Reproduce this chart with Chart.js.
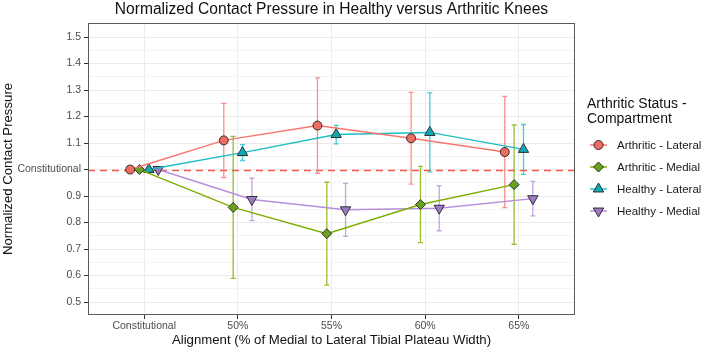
<!DOCTYPE html>
<html>
<head>
<meta charset="utf-8">
<script src="https://cdn.jsdelivr.net/npm/chart.js@4"></script>
<style>
  html, body { margin: 0; padding: 0; background: #fff; }
  #wrap { width: 702px; height: 349px; }
</style>
</head>
<body>
<div id="wrap"><canvas id="kneeChart" width="702" height="349"></canvas></div>
<script>
const categories = ['Constitutional', '50%', '55%', '60%', '65%'];

const arthLateral = [1.0, 1.11, 1.166, 1.118, 1.066];
const arthLateralErr = [0, 0.14, 0.18, 0.173, 0.21];
const arthMedial = [1.0, 0.857, 0.758, 0.868, 0.943];
const arthMedialErr = [0, 0.268, 0.194, 0.144, 0.225];
const healthyLateral = [1.0, 1.064, 1.132, 1.14, 1.076];
const healthyLateralErr = [0, 0.03, 0.035, 0.149, 0.094];
const healthyMedial = [1.0, 0.887, 0.848, 0.854, 0.89];
const healthyMedialErr = [0, 0.08, 0.1, 0.085, 0.065];

const seriesNames = ['Arthritic - Lateral', 'Arthritic - Medial', 'Healthy - Lateral', 'Healthy - Medial'];
const yMajorTicks = [0.5, 0.6, 0.7, 0.8, 0.9, 1.0, 1.1, 1.2, 1.3, 1.4, 1.5];
const baseline = 1.0;

const FONT = "'Liberation Sans', Arial, Helvetica, sans-serif";
const lineColors = ['#F8766D', '#7CAE00', '#1CBDC4', '#B88DDB'];
const fillColors = ['#EF6C63', '#6AA11E', '#10A9B3', '#9D7AC4'];
const shapes = ['circle', 'rectRot', 'triangle', 'triangle'];
const rotations = [0, 0, 0, 180];
const radii = [4.5, 5, 6, 6];
const dodge = [-0.15, -0.05, 0.05, 0.15];

const allValues = [arthLateral, arthMedial, healthyLateral, healthyMedial];
const allErrors = [arthLateralErr, arthMedialErr, healthyLateralErr, healthyMedialErr];

const datasets = seriesNames.map((name, s) => ({
  label: name,
  data: allValues[s].map((v, i) => ({ x: i + dodge[s], y: v, err: allErrors[s][i] })),
  borderColor: lineColors[s],
  borderWidth: 1.4,
  backgroundColor: fillColors[s],
  pointStyle: shapes[s],
  pointRotation: rotations[s],
  pointRadius: radii[s],
  pointHoverRadius: radii[s],
  pointBorderColor: '#222',
  pointBorderWidth: 0.9,
  pointBackgroundColor: fillColors[s],
  tension: 0,
  fill: false
}));

function isMajor(v) {
  return Math.round(v * 100) % 10 === 0;
}

// error bars, panel border, baseline, title and legend
const extras = {
  id: 'extras',
  beforeDatasetsDraw(chart) {
    const { ctx, chartArea: a, scales: { x, y } } = chart;
    ctx.save();
    // dashed baseline
    ctx.strokeStyle = '#F25A52';
    ctx.lineWidth = 1.3;
    ctx.setLineDash([7, 5]);
    const by = Math.round(y.getPixelForValue(baseline)) + 0.5;
    ctx.beginPath();
    ctx.moveTo(a.left, by);
    ctx.lineTo(a.right, by);
    ctx.stroke();
    ctx.setLineDash([]);
    // error bars
    chart.data.datasets.forEach((ds, s) => {
      ctx.strokeStyle = lineColors[s];
      ctx.globalAlpha = 0.8;
      ctx.lineWidth = 1.3;
      ds.data.forEach(p => {
        if (!p.err) return;
        const px = x.getPixelForValue(p.x);
        const top = y.getPixelForValue(p.y + p.err);
        const bot = y.getPixelForValue(p.y - p.err);
        ctx.beginPath();
        ctx.moveTo(px, top); ctx.lineTo(px, bot);
        ctx.moveTo(px - 2.5, top); ctx.lineTo(px + 2.5, top);
        ctx.moveTo(px - 2.5, bot); ctx.lineTo(px + 2.5, bot);
        ctx.stroke();
      });
    });
    ctx.restore();
  },
  afterDraw(chart) {
    const { ctx, chartArea: a } = chart;
    ctx.save();
    ctx.strokeStyle = '#5a5a5a';
    ctx.lineWidth = 1;
    ctx.strokeRect(Math.round(a.left) + 0.5, Math.round(a.top) + 0.5,
      Math.round(a.right - a.left) - 1, Math.round(a.bottom - a.top) - 1);

    // title centred over panel
    ctx.fillStyle = '#111';
    ctx.font = '15.6px ' + FONT;
    ctx.textAlign = 'center';
    ctx.textBaseline = 'middle';
    ctx.fillText('Normalized Contact Pressure in Healthy versus Arthritic Knees', (a.left + a.right) / 2, 10);

    // legend
    const lx = 587;
    ctx.textAlign = 'left';
    ctx.font = '14px ' + FONT;
    ctx.fillText('Arthritic Status -', lx, 104);
    ctx.fillText('Compartment', lx, 119);
    ctx.font = '11.5px ' + FONT;
    seriesNames.forEach((name, s) => {
      const yy = 145 + s * 22;
      ctx.strokeStyle = lineColors[s];
      ctx.lineWidth = 1.4;
      ctx.beginPath();
      ctx.moveTo(590, yy); ctx.lineTo(607, yy);
      ctx.stroke();
      ctx.fillStyle = fillColors[s];
      ctx.strokeStyle = '#222';
      ctx.lineWidth = 0.9;
      Chart.helpers.drawPoint(ctx, {
        pointStyle: shapes[s], radius: radii[s], rotation: rotations[s], borderWidth: 0.9
      }, 598.5, yy);
      ctx.fillStyle = '#1a1a1a';
      ctx.fillText(name, 617, yy + 0.5);
    });
    ctx.restore();
  }
};

new Chart(document.getElementById('kneeChart'), {
  type: 'line',
  data: { datasets },
  plugins: [extras],
  options: {
    responsive: false,
    animation: false,
    layout: { padding: { left: 0, right: 127, top: 23, bottom: 0 } },
    plugins: { legend: { display: false }, tooltip: { enabled: false }, title: { display: false } },
    scales: {
      x: {
        type: 'linear',
        min: -0.6,
        max: 4.6,
        afterFit(scale) { scale.height = 34; },
        ticks: {
          stepSize: 1,
          includeBounds: false,
          autoSkip: false,
          maxRotation: 0,
          padding: 1,
          color: '#4d4d4d',
          font: { family: FONT, size: 10.5 },
          callback: v => categories[Math.round(v)] ?? ''
        },
        grid: { color: '#EBEBEB', lineWidth: 1, tickColor: '#333', tickLength: 4 },
        border: { display: false },
        title: {
          display: true,
          text: 'Alignment (% of Medial to Lateral Tibial Plateau Width)',
          color: '#111',
          font: { family: FONT, size: 13.2 },
          padding: { top: 0, bottom: 1 }
        }
      },
      y: {
        type: 'linear',
        min: 0.451,
        max: 1.553,
        afterFit(scale) { scale.width = 88; },
        ticks: {
          stepSize: 0.05,
          includeBounds: false,
          autoSkip: false,
          padding: 3,
          color: '#4d4d4d',
          font: { family: FONT, size: 10.5 },
          callback: v => {
            if (!isMajor(v)) return '';
            const r = Math.round(v * 10) / 10;
            if (!yMajorTicks.includes(r)) return '';
            return r === baseline ? 'Constitutional' : r.toFixed(1);
          }
        },
        grid: {
          color: c => isMajor(c.tick.value) ? '#EBEBEB' : '#F4F4F4',
          lineWidth: 1,
          tickColor: c => isMajor(c.tick.value) ? '#333' : 'rgba(0,0,0,0)',
          tickLength: 4
        },
        border: { display: false },
        title: {
          display: true,
          text: 'Normalized Contact Pressure',
          color: '#111',
          font: { family: FONT, size: 13.2 },
          padding: { top: 0, bottom: 3 }
        }
      }
    }
  }
});
</script>
</body>
</html>
